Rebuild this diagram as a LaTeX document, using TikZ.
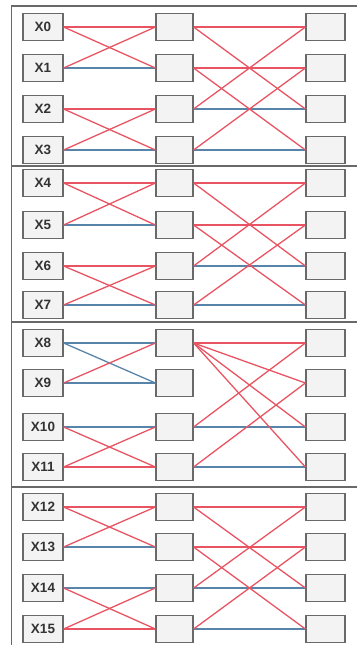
\documentclass[tikz,border=0pt]{standalone}
\usepackage{fontspec}
\setsansfont{Liberation Sans}
\definecolor{linkred}{RGB}{232,84,98}
\definecolor{linkblue}{RGB}{88,132,170}
\definecolor{boxline}{RGB}{105,105,105}
\definecolor{boxfill}{RGB}{243,243,243}
\tikzset{
  cell/.style={draw=boxline, fill=boxfill, line width=1.2pt, inner sep=0pt,
    minimum height=27pt, font=\sffamily\bfseries\fontsize{13.5}{13.5}\selectfont, text=black!80},
  redlink/.style={draw=linkred, line width=1.3pt},
  bluelink/.style={draw=linkblue, line width=1.3pt},
  sep/.style={draw=boxline, line width=1.8pt}
}

\begin{document}
\begin{tikzpicture}[x=1pt,y=-1pt]
\useasboundingbox (0,0) rectangle (357,645);

% Frame and group separators
\draw[sep] (357,6) -- (11.5,6) -- (11.5,645);
\draw[sep] (11.5,166) -- (357,166);
\draw[sep] (11.5,322) -- (357,322);
\draw[sep] (11.5,487) -- (357,487);

% Boxes
\foreach \i/\y in {0/27,1/68,2/109,3/150,4/183,5/225,6/266,7/305,
                   8/343,9/383,10/427,11/467,12/507,13/547,14/588,15/629} {
  \node[cell, minimum width=40pt] (in\i) at (43,\y) {X\i};
  \node[cell, minimum width=37pt] (mid\i) at (174.5,\y) {};
  \node[cell, minimum width=39pt] (out\i) at (325.5,\y) {};
}

% First stage
\foreach \a/\b in {1/1,3/3,5/5,7/7,8/8,8/9,9/9,10/10,13/13,14/14}
  \draw[bluelink] (in\a.east) -- (mid\b.west);
\foreach \a/\b in {0/0,0/1,1/0,2/2,2/3,3/2,4/4,4/5,5/4,6/6,6/7,7/6,
                   9/8,10/11,11/10,11/11,12/12,12/13,13/12,14/15,15/14,15/15}
  \draw[redlink] (in\a.east) -- (mid\b.west);

% Second stage
\foreach \a/\b in {2/2,3/3,6/6,7/7,10/10,11/11,14/14,15/15}
  \draw[bluelink] (mid\a.east) -- (out\b.west);
\foreach \a/\b in {0/0,1/1,0/2,1/3,2/0,3/1,4/4,5/5,4/6,5/7,6/4,7/5,
                   8/8,8/9,8/10,8/11,10/8,11/9,12/12,13/13,12/14,13/15,14/12,15/13}
  \draw[redlink] (mid\a.east) -- (out\b.west);

\end{tikzpicture}
\end{document}
